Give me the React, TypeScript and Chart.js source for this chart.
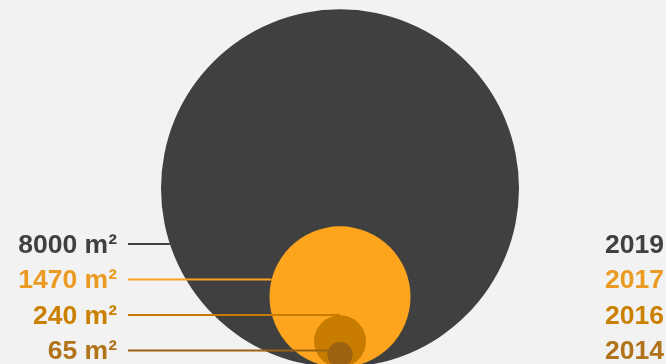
import React, { useEffect, useRef } from "react";
import { Chart, registerables } from "chart.js";

Chart.register(...registerables);

const years = ["2019", "2017", "2016", "2014"];
const areas = [8000, 1470, 240, 65];
const areaLabels = ["8000 m²", "1470 m²", "240 m²", "65 m²"];
const circleColors = ["#404040", "#FFA51D", "#C77C00", "#9C6212"];
const lineColors = ["#404040", "#F9A21E", "#C77C00", "#9C6212"];
const textColors = ["#404040", "#EB9A22", "#CC8000", "#B0731A"];

const MAX_R = 179;
const EXPONENT = 0.55;
const maxArea = Math.max(...areas);
const radiusFor = (a: number) => MAX_R * Math.pow(a / maxArea, EXPONENT);

const FONT = "bold 26.5px 'Liberation Sans', Arial, Helvetica, sans-serif";

const labelPlugin = {
  id: "labelPlugin",
  afterDatasetsDraw(chart: any) {
    const ctx = chart.ctx;
    const meta = chart.getDatasetMeta(0);
    const rowY0 = 244;
    const rowGap = 35.5;
    ctx.save();
    ctx.font = FONT;
    ctx.textBaseline = "alphabetic";
    for (let i = 0; i < areas.length; i++) {
      const y = rowY0 + i * rowGap;
      const el = meta.data[i];
      const cx = el.x;
      const cy = el.y;
      const r = el.options.radius;
      const dy = y - cy;
      const half = Math.abs(dy) < r ? Math.sqrt(r * r - dy * dy) : 0;
      const xe = cx - half;
      ctx.strokeStyle = lineColors[i];
      ctx.lineWidth = 2.2;
      ctx.beginPath();
      ctx.moveTo(128, y);
      ctx.lineTo(xe, y);
      ctx.stroke();
      ctx.fillStyle = textColors[i];
      ctx.textAlign = "right";
      ctx.fillText(areaLabels[i], 117, y + 8.8);
      ctx.fillText(years[i], 664, y + 8.8);
    }
    ctx.restore();
  },
};

export default function App() {
  const ref = useRef<HTMLCanvasElement | null>(null);
  useEffect(() => {
    if (!ref.current) return;
    const radii = areas.map(radiusFor);
    const chart = new Chart(ref.current, {
      type: "bubble",
      data: {
        datasets: [
          {
            data: areas.map((a, i) => ({ x: 0, y: radii[i], r: radii[i] })),
            backgroundColor: circleColors,
            borderWidth: 0,
            hoverBorderWidth: 0,
          },
        ],
      },
      options: {
        responsive: false,
        animation: false,
        events: [],
        layout: { padding: 0, autoPadding: false },
        plugins: { legend: { display: false }, tooltip: { enabled: false }, title: { display: false } },
        scales: {
          x: { type: "linear", min: -340, max: 326, display: false },
          y: { type: "linear", min: 3.3, max: 367.3, display: false },
        },
      },
      plugins: [labelPlugin],
    } as any);
    return () => chart.destroy();
  }, []);
  return (
    <div style={{ position: "fixed", left: 0, top: 0, width: 666, height: 364, background: "#f2f2f2", overflow: "hidden" }}>
      <canvas ref={ref} width={666} height={364} style={{ display: "block" }} />
    </div>
  );
}
